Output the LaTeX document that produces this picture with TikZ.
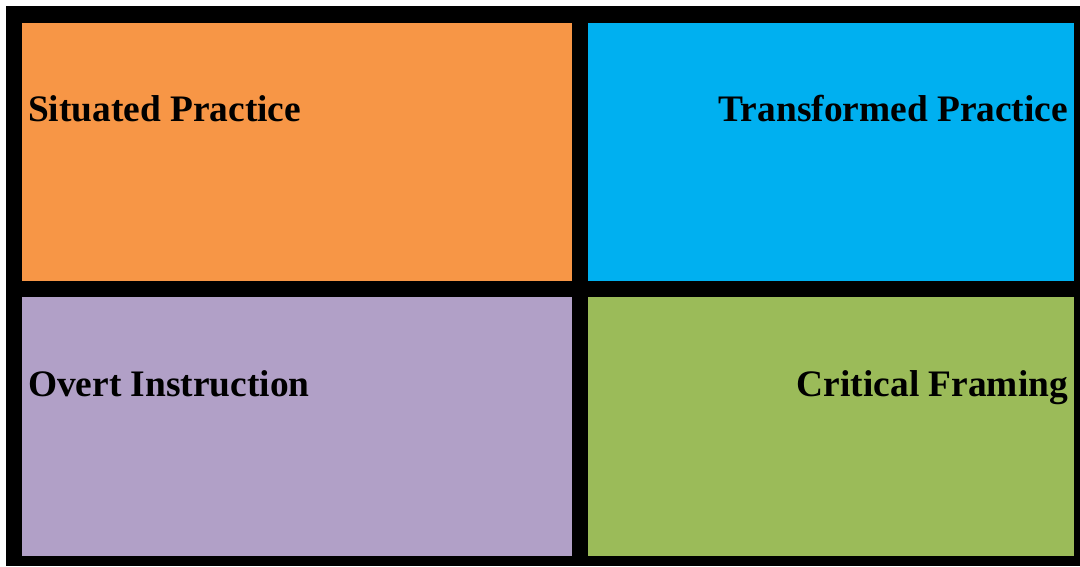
\documentclass[tikz,border=0pt]{standalone}
\usepackage{fontspec}
\setmainfont{Liberation Serif}
\definecolor{situated}{HTML}{F79646}
\definecolor{transformed}{HTML}{00B0F0}
\definecolor{overt}{HTML}{B1A0C7}
\definecolor{critical}{HTML}{9BBB59}
\begin{document}
\begin{tikzpicture}[x=1pt, y=-1pt, font=\bfseries\fontsize{37.4}{44}\selectfont,
		quad/.style={rectangle, draw=none, inner sep=0, outer sep=0, anchor=north west},
		lbl/.style={inner sep=0, outer sep=0}]
			\useasboundingbox (0,0) rectangle (1080,566);
			\fill[white] (0,0) rectangle (1080,566);
			\fill[black] (6,6) rectangle (1080,566);
			\node[quad, fill=situated, minimum width=550pt, minimum height=258pt] (sit) at (22,23) {};
			\node[quad, fill=transformed, minimum width=486pt, minimum height=258pt] (tra) at (588,23) {};
			\node[quad, fill=overt, minimum width=550pt, minimum height=259pt] (ove) at (22,297) {};
			\node[quad, fill=critical, minimum width=486pt, minimum height=259pt] (cri) at (588,297) {};
			\node[lbl, anchor=base west] (sitlabel) at (28,121) {Situated Practice};
			\node[lbl, anchor=base east] (tralabel) at (1068,121) {Transformed Practice};
			\node[lbl, anchor=base west] (ovelabel) at (28,396) {Overt Instruction};
			\node[lbl, anchor=base east] (crilabel) at (1068,396) {Critical Framing};
	\end{tikzpicture}
\end{document}
